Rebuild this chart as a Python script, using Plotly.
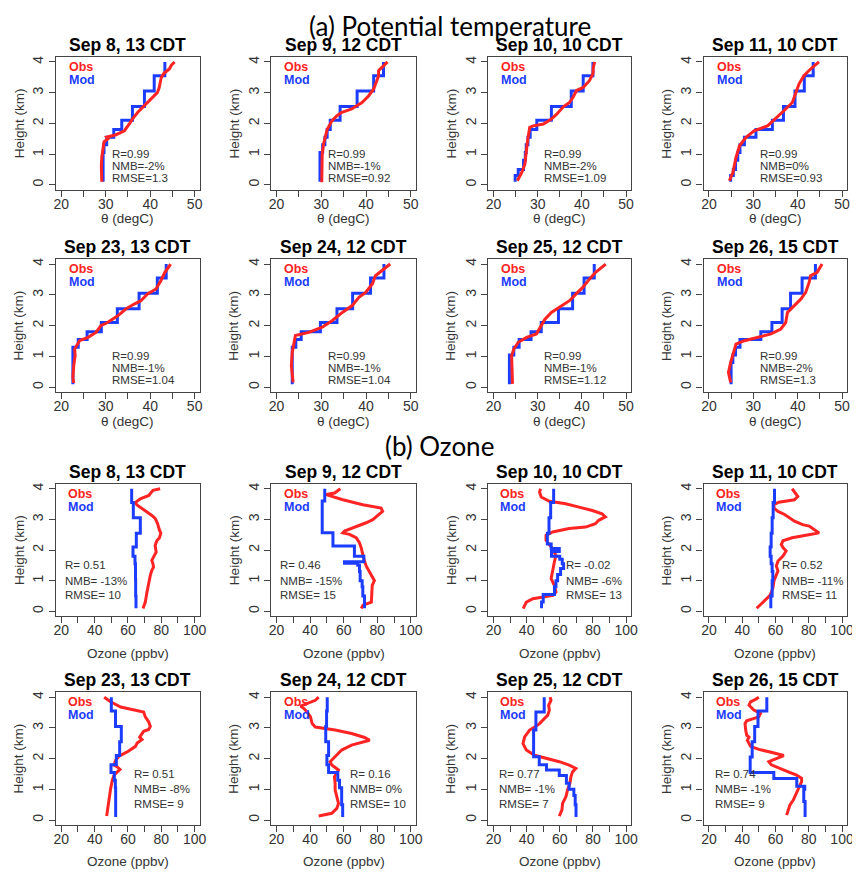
import plotly.graph_objects as go

# The page body has an 8 px margin, so the figure is drawn 8 px smaller and all
# reference pixel positions are shifted by that offset.
PAGE_W, PAGE_H = 860, 873
OFF = 8
W, H = PAGE_W - OFF, PAGE_H - OFF

# ---------------- data ----------------
panel_titles = ["Sep 8, 13 CDT", "Sep 9, 12 CDT", "Sep 10, 10 CDT", "Sep 11, 10 CDT",
                "Sep 23, 13 CDT", "Sep 24, 12 CDT", "Sep 25, 12 CDT", "Sep 26, 15 CDT"]

# Potential temperature (degC) - observed profiles
th_obs_z_sep08 = [0.1, 0.3, 0.6, 0.9, 1.2, 1.4, 1.5, 1.55, 1.63, 1.76, 1.98, 2.14, 2.36, 2.57, 2.79, 3.0, 3.15, 3.28, 3.5, 3.63, 3.77, 3.9, 4.0]
th_obs_sep08 = [29.1, 29.0, 29.0, 29.1, 29.3, 29.6, 30.5, 30.2, 32.3, 34.2, 35.3, 36.0, 37.2, 38.7, 40.1, 41.6, 42.0, 42.2, 42.5, 43.1, 44.3, 44.8, 45.5]
th_obs_z_sep09 = [0.08, 0.3, 0.6, 1.0, 1.33, 1.6, 1.8, 2.09, 2.25, 2.36, 2.47, 2.58, 2.68, 2.9, 3.12, 3.39, 3.55, 3.72, 3.88, 4.0]
th_obs_sep09 = [30.1, 30.1, 30.2, 30.2, 30.5, 31.0, 31.3, 32.4, 33.5, 34.6, 36.8, 38.0, 39.1, 40.6, 41.7, 42.4, 42.8, 42.8, 43.9, 44.8]
th_obs_z_sep10 = [0.13, 0.4, 0.67, 1.0, 1.43, 1.87, 1.92, 1.98, 2.14, 2.3, 2.54, 2.68, 2.85, 3.07, 3.17, 3.39, 3.61, 3.83, 4.0]
th_obs_sep10 = [25.4, 26.4, 27.1, 27.3, 27.7, 28.2, 29.0, 31.3, 33.1, 34.3, 35.8, 37.2, 38.0, 38.8, 40.3, 41.7, 42.5, 42.6, 42.9]
th_obs_z_sep11 = [0.13, 0.4, 0.89, 1.27, 1.54, 1.76, 1.92, 2.2, 2.41, 2.68, 2.96, 3.28, 3.55, 3.77, 4.0]
th_obs_sep11 = [24.6, 25.4, 26.1, 26.9, 28.3, 30.2, 33.2, 35.4, 36.9, 38.8, 39.5, 40.3, 41.4, 42.9, 44.8]
th_obs_z_sep23 = [0.14, 0.32, 0.7, 1.02, 1.24, 1.51, 1.62, 1.78, 2.0, 2.1, 2.32, 2.54, 2.7, 2.81, 3.03, 3.19, 3.46, 3.73, 4.0]
th_obs_sep23 = [22.8, 22.6, 22.8, 23.1, 23.0, 24.1, 26.0, 27.8, 28.9, 30.4, 32.7, 34.5, 36.4, 37.9, 39.4, 41.3, 42.4, 43.3, 44.6]
th_obs_z_sep24 = [0.16, 0.7, 1.13, 1.51, 1.68, 1.78, 1.95, 2.16, 2.43, 2.65, 2.92, 3.08, 3.35, 3.62, 3.78, 4.0]
th_obs_sep24 = [23.7, 23.3, 23.5, 23.9, 24.2, 27.2, 30.2, 32.4, 34.7, 36.9, 38.4, 39.9, 41.4, 42.1, 43.6, 45.4]
th_obs_z_sep25 = [0.11, 0.7, 1.02, 1.24, 1.46, 1.62, 1.73, 2.0, 2.2, 2.43, 2.59, 2.81, 3.03, 3.24, 3.51, 3.73, 4.0]
th_obs_sep25 = [24.3, 24.1, 24.1, 24.6, 25.6, 27.5, 29.7, 30.8, 31.6, 33.1, 34.9, 37.2, 38.7, 40.2, 41.7, 43.1, 45.4]
th_obs_z_sep26 = [0.16, 0.48, 0.81, 1.08, 1.4, 1.51, 1.62, 1.73, 1.89, 2.1, 2.43, 2.65, 2.86, 3.08, 3.41, 3.62, 3.73, 4.0]
th_obs_sep26 = [24.9, 24.4, 24.9, 25.4, 26.1, 28.0, 31.0, 34.0, 36.2, 37.3, 37.7, 39.2, 40.7, 41.8, 42.6, 42.9, 44.4, 45.5]

# Potential temperature - model layers (value holds from level i to level i+1)
th_mod_z = [0.1, 0.3, 0.5, 0.8, 1.05, 1.3, 1.55, 1.8, 2.1, 2.55, 3.05, 3.55, 4.0]
th_mod_sep08 = [29.4, 29.4, 29.4, 29.4, 29.6, 30.2, 31.8, 33.6, 36.0, 38.7, 40.9, 43.3, 43.3]
th_mod_sep09 = [29.7, 29.7, 29.7, 29.7, 30.3, 30.8, 31.3, 32.0, 34.2, 38.0, 41.7, 43.9, 43.9]
th_mod_sep10 = [24.9, 25.6, 26.8, 27.2, 27.4, 27.8, 28.3, 29.8, 33.1, 37.6, 40.3, 42.5, 42.5]
th_mod_sep11 = [24.9, 25.5, 26.0, 26.5, 27.0, 28.0, 30.6, 34.3, 36.8, 39.4, 41.5, 43.5, 43.5]
th_mod_sep23 = [22.6, 22.6, 22.6, 22.6, 22.6, 23.8, 25.8, 29.0, 32.6, 37.5, 41.6, 43.6, 43.6]
th_mod_sep24 = [23.5, 23.5, 23.5, 23.5, 23.5, 24.3, 25.5, 29.8, 33.5, 37.0, 41.0, 44.0, 44.0]
th_mod_sep25 = [23.6, 23.6, 23.6, 23.6, 24.6, 25.8, 28.5, 30.8, 34.7, 37.9, 40.5, 42.8, 42.8]
th_mod_sep26 = [25.0, 25.0, 25.0, 25.4, 26.0, 27.0, 31.7, 34.2, 36.5, 38.4, 41.0, 44.0, 44.0]

th_R = ["0.99", "0.99", "0.99", "0.99", "0.99", "0.99", "0.99", "0.99"]
th_NMB = ["-2%", "-1%", "-2%", "0%", "-1%", "-1%", "-1%", "-2%"]
th_RMSE = ["1.3", "0.92", "1.09", "0.93", "1.04", "1.04", "1.12", "1.3"]

# Ozone (ppbv) - observed profiles
o3_obs_z_sep08 = [0.09, 0.3, 0.63, 0.96, 1.17, 1.34, 1.44, 1.55, 1.66, 1.77, 1.93, 2.15, 2.3, 2.4, 2.55, 2.65, 2.87, 3.03, 3.13, 3.24, 3.35, 3.47, 3.55, 3.67, 3.78, 3.89, 3.95, 4.0]
o3_obs_sep08 = [69.0, 70.4, 71.4, 72.4, 73.4, 74.3, 75.3, 75.0, 74.3, 75.3, 76.9, 76.3, 77.3, 78.9, 79.7, 78.9, 77.7, 76.3, 74.3, 71.4, 68.4, 65.4, 64.4, 67.4, 72.5, 74.3, 75.0, 79.3]
o3_obs_z_sep09 = [0.09, 0.2, 0.3, 0.6, 0.85, 1.0, 1.1, 1.3, 1.48, 1.64, 1.91, 2.08, 2.24, 2.4, 2.51, 2.56, 2.62, 2.72, 2.89, 2.99, 3.16, 3.26, 3.37, 3.48, 3.64, 3.78, 3.81, 3.86, 3.97, 4.0]
o3_obs_sep09 = [70.5, 71.5, 76.5, 77.0, 77.0, 78.3, 77.3, 75.0, 73.4, 72.4, 71.4, 70.4, 69.4, 67.4, 63.5, 59.5, 60.5, 65.5, 73.4, 77.3, 81.3, 83.2, 82.3, 71.4, 59.5, 51.6, 49.6, 54.6, 57.5, 58.0]
o3_obs_z_sep10 = [0.09, 0.3, 0.41, 0.47, 0.52, 0.63, 0.85, 1.07, 1.28, 1.6, 1.83, 1.93, 2.1, 2.32, 2.48, 2.59, 2.7, 2.75, 2.86, 2.97, 3.08, 3.18, 3.29, 3.4, 3.51, 3.59, 3.73, 3.89, 4.0]
o3_obs_sep10 = [37.9, 39.8, 43.8, 49.8, 55.8, 57.7, 56.7, 54.8, 55.4, 56.7, 57.7, 56.7, 54.8, 51.7, 51.7, 55.7, 65.6, 75.6, 81.5, 83.5, 87.5, 85.5, 79.6, 71.6, 63.6, 53.7, 48.8, 47.8, 48.4]
o3_obs_z_sep11 = [0.1, 0.24, 0.4, 0.51, 0.62, 0.78, 1.0, 1.16, 1.32, 1.48, 1.64, 1.8, 1.97, 2.08, 2.18, 2.3, 2.4, 2.5, 2.56, 2.67, 2.78, 2.83, 2.94, 3.16, 3.26, 3.37, 3.48, 3.56, 3.64, 3.75, 3.91, 4.0]
o3_obs_sep11 = [48.7, 51.6, 54.6, 56.6, 57.5, 58.5, 59.1, 60.5, 61.5, 60.5, 61.5, 64.5, 66.4, 64.5, 63.5, 64.5, 70.0, 80.0, 86.2, 83.2, 80.3, 76.3, 71.4, 65.5, 61.5, 59.1, 59.1, 62.0, 71.4, 73.4, 71.4, 70.0]
o3_obs_z_sep23 = [0.13, 0.43, 0.76, 1.03, 1.3, 1.46, 1.57, 1.65, 1.73, 1.79, 1.95, 2.08, 2.22, 2.4, 2.51, 2.62, 2.7, 2.8, 2.89, 2.95, 3.05, 3.2, 3.36, 3.52, 3.58, 3.68, 3.85, 4.0]
o3_obs_sep23 = [47.2, 48.0, 48.6, 49.6, 50.6, 51.6, 53.6, 55.2, 53.6, 51.6, 52.6, 54.6, 59.5, 64.5, 65.5, 68.4, 67.0, 68.4, 69.4, 72.4, 73.4, 72.4, 70.4, 69.4, 63.5, 55.6, 49.6, 45.7]
o3_obs_z_sep24 = [0.13, 0.22, 0.38, 0.54, 0.76, 0.98, 1.19, 1.41, 1.63, 1.79, 1.9, 2.06, 2.28, 2.44, 2.55, 2.6, 2.69, 2.82, 2.93, 3.03, 3.14, 3.36, 3.52, 3.63, 3.71, 3.79, 3.9, 4.0]
o3_obs_sep24 = [45.1, 52.9, 55.9, 56.9, 55.9, 54.9, 54.9, 54.5, 56.9, 52.9, 51.9, 54.9, 58.8, 64.7, 72.5, 75.5, 72.5, 64.7, 54.9, 43.1, 41.2, 40.2, 38.2, 36.3, 34.3, 38.2, 43.1, 45.1]
o3_obs_z_sep25 = [0.13, 0.33, 0.54, 0.76, 0.98, 1.19, 1.41, 1.57, 1.68, 1.79, 1.9, 2.0, 2.11, 2.28, 2.49, 2.71, 2.93, 3.03, 3.14, 3.31, 3.41, 3.58, 3.74, 3.82, 3.9, 4.0]
o3_obs_sep25 = [59.7, 61.3, 61.7, 63.7, 64.7, 66.1, 66.7, 67.7, 69.7, 65.7, 59.7, 51.7, 44.8, 39.8, 37.8, 38.8, 41.8, 44.8, 47.8, 50.8, 52.7, 53.7, 53.3, 54.0, 54.7, 54.2]
o3_obs_z_sep26 = [0.16, 0.33, 0.49, 0.65, 0.87, 1.08, 1.25, 1.36, 1.46, 1.57, 1.68, 1.8, 1.9, 2.0, 2.1, 2.2, 2.3, 2.4, 2.5, 2.6, 2.7, 2.76, 2.93, 3.14, 3.23, 3.3, 3.36, 3.47, 3.58, 3.74, 3.85, 3.93, 4.0]
o3_obs_sep26 = [66.7, 67.7, 68.7, 70.7, 72.7, 74.3, 75.7, 75.7, 72.7, 67.7, 62.7, 57.5, 56.0, 60.0, 65.0, 58.0, 50.0, 45.0, 44.1, 43.1, 44.1, 42.7, 42.1, 41.7, 42.7, 46.0, 50.0, 51.0, 47.0, 44.1, 45.0, 48.0, 50.0]

# Ozone - model layers (value holds from level i to level i+1)
o3_mod_z_sep08 = [0.1, 0.5, 1.05, 1.55, 1.8, 2.1, 2.55, 3.05, 3.55, 4.0]
o3_mod_sep08 = [64.8, 64.6, 64.5, 64.2, 63.0, 65.0, 67.4, 63.2, 62.2, 62.2]
o3_mod_z_sep09 = [0.1, 0.5, 0.8, 1.0, 1.3, 1.5, 1.57, 1.62, 1.8, 2.13, 2.56, 3.6, 4.0]
o3_mod_sep09 = [72.4, 71.4, 71.0, 69.8, 69.4, 68.4, 60.5, 72.0, 66.4, 53.6, 47.2, 48.7, 48.7]
o3_mod_z_sep10 = [0.1, 0.3, 0.55, 0.8, 1.0, 1.2, 1.4, 1.55, 1.7, 1.8, 1.95, 2.05, 2.2, 2.55, 3.05, 3.55, 4.0]
o3_mod_sep10 = [49.0, 50.0, 56.8, 57.7, 58.7, 60.5, 62.3, 61.5, 60.0, 55.0, 59.7, 54.8, 52.5, 53.5, 54.5, 56.3, 56.3]
o3_mod_z_sep11 = [0.1, 0.5, 1.0, 1.3, 1.55, 1.8, 2.1, 2.55, 3.05, 3.55, 4.0]
o3_mod_sep11 = [57.2, 58.0, 58.4, 58.0, 57.4, 56.8, 57.4, 58.0, 58.6, 59.4, 59.4]
o3_mod_z_sep23 = [0.1, 0.5, 1.05, 1.3, 1.55, 1.8, 2.1, 2.55, 3.05, 3.55, 4.0]
o3_mod_sep23 = [52.6, 52.6, 52.4, 51.8, 49.8, 53.0, 55.0, 56.0, 52.5, 50.0, 50.0]
o3_mod_z_sep24 = [0.1, 0.5, 1.05, 1.3, 1.55, 1.8, 2.1, 2.55, 3.05, 3.55, 4.0]
o3_mod_sep24 = [59.4, 58.8, 57.5, 56.5, 51.0, 50.0, 51.0, 49.3, 49.8, 50.2, 50.2]
o3_mod_z_sep25 = [0.1, 0.5, 0.8, 1.0, 1.2, 1.45, 1.63, 1.8, 2.06, 2.93, 3.52, 4.0]
o3_mod_sep25 = [69.8, 69.3, 68.5, 65.6, 64.0, 59.7, 52.0, 47.6, 44.2, 45.6, 50.6, 50.6]
o3_mod_z_sep26 = [0.1, 0.6, 1.0, 1.1, 1.35, 1.55, 2.05, 2.55, 3.05, 3.55, 4.0]
o3_mod_sep26 = [77.8, 77.0, 77.6, 72.8, 59.0, 44.8, 46.0, 47.5, 49.5, 54.8, 54.8]

o3_R = ["0.51", "0.46", "-0.02", "0.52", "0.51", "0.16", "0.77", "0.74"]
o3_NMB = ["-13%", "-15%", "-6%", "-11%", "-8%", "0%", "-1%", "-1%"]
o3_RMSE = ["10", "15", "13", "11", "9", "10", "7", "9"]

theta_tickvals = [20, 25, 30, 35, 40, 45, 50]
theta_ticktext = ["20", "", "30", "", "40", "", "50"]
o3_tickvals = [20, 30, 40, 50, 60, 70, 80, 90, 100]
o3_ticktext = ["20", "", "40", "", "60", "", "80", "", "100"]
height_tickvals = [0, 1, 2, 3, 4]

# ---------------- layout geometry (reference pixels) ----------------
cols_px = [(54.5, 200.0), (272.0, 418.5), (491.3, 636.0), (709.0, 854.3)]
rows_px = [(56.1, 188.9), (258.4, 391.6), (483.4, 615.9), (692.1, 824.9)]
xtitle_dy = [29, 29, 37, 37]

RED = "#ff2424"
BLUE = "#1c3cff"
FONT = "Liberation Sans, Arial, sans-serif"

th_obs = [(th_obs_z_sep08, th_obs_sep08), (th_obs_z_sep09, th_obs_sep09), (th_obs_z_sep10, th_obs_sep10),
          (th_obs_z_sep11, th_obs_sep11), (th_obs_z_sep23, th_obs_sep23), (th_obs_z_sep24, th_obs_sep24),
          (th_obs_z_sep25, th_obs_sep25), (th_obs_z_sep26, th_obs_sep26)]
th_mod = [th_mod_sep08, th_mod_sep09, th_mod_sep10, th_mod_sep11,
          th_mod_sep23, th_mod_sep24, th_mod_sep25, th_mod_sep26]
o3_obs = [(o3_obs_z_sep08, o3_obs_sep08), (o3_obs_z_sep09, o3_obs_sep09), (o3_obs_z_sep10, o3_obs_sep10),
          (o3_obs_z_sep11, o3_obs_sep11), (o3_obs_z_sep23, o3_obs_sep23), (o3_obs_z_sep24, o3_obs_sep24),
          (o3_obs_z_sep25, o3_obs_sep25), (o3_obs_z_sep26, o3_obs_sep26)]
o3_mod = [(o3_mod_z_sep08, o3_mod_sep08), (o3_mod_z_sep09, o3_mod_sep09), (o3_mod_z_sep10, o3_mod_sep10),
          (o3_mod_z_sep11, o3_mod_sep11), (o3_mod_z_sep23, o3_mod_sep23), (o3_mod_z_sep24, o3_mod_sep24),
          (o3_mod_z_sep25, o3_mod_sep25), (o3_mod_z_sep26, o3_mod_sep26)]
o3_text_x = [21.6, 21.6, 62.9, 63.1, 63.1, 63.1, 23.0, 23.0]


def px2x(px):
    return (px - OFF) / W


def px2y(py):
    return 1 - (py - OFF) / H


fig = go.Figure()
layout = dict(width=W, height=H, margin=dict(l=0, r=0, t=0, b=0), autosize=False,
              paper_bgcolor="white", plot_bgcolor="white", showlegend=False)
annotations = []


def add_text(text, x, y, xref="paper", yref="paper", size=13, color="#333333", bold=False,
             xanchor="center", yanchor="middle", angle=0, family=FONT):
    if bold:
        text = "<b>" + text + "</b>"
    annotations.append(dict(text=text, x=x, y=y, xref=xref, yref=yref, showarrow=False,
                            xanchor=xanchor, yanchor=yanchor, textangle=angle, borderpad=0,
                            font=dict(family=family, size=size, color=color)))


for k in range(16):
    n = k + 1
    row = k // 4
    col = k % 4
    is_theta = row < 2
    idx = (row % 2) * 4 + col
    xs = "" if n == 1 else str(n)
    xref, yref = "x" + xs, "y" + xs
    x0, x1 = cols_px[col]
    top, bot = rows_px[row]

    axis_common = dict(showline=True, mirror=True, linecolor="#444444", linewidth=1.2,
                       ticks="outside", ticklen=6, tickwidth=1.2, tickcolor="#444444",
                       showgrid=False, zeroline=False,
                       tickfont=dict(family=FONT, size=14, color="#333333"))
    if is_theta:
        xaxis = dict(domain=[px2x(x0), px2x(x1)], range=[18.8, 51.2], anchor=yref,
                     tickvals=theta_tickvals, ticktext=theta_ticktext,
                     ticklabelstandoff=-5, **axis_common)
    else:
        xaxis = dict(domain=[px2x(x0), px2x(x1)], range=[16.8, 103.2], anchor=yref,
                     tickvals=o3_tickvals, ticktext=o3_ticktext,
                     ticklabelstandoff=-5, **axis_common)
    yaxis = dict(domain=[px2y(bot), px2y(top)], range=[-0.16, 4.16], anchor=xref,
                 tickvals=height_tickvals, tickangle=-90, **axis_common)
    layout["xaxis" + xs] = xaxis
    layout["yaxis" + xs] = yaxis

    if is_theta:
        oz, ov = th_obs[idx]
        fig.add_trace(go.Scatter(x=th_mod[idx], y=th_mod_z, mode="lines", line=dict(color=BLUE, width=3, shape="vh"),
                                 xaxis=xref, yaxis=yref, hoverinfo="skip"))
        fig.add_trace(go.Scatter(x=ov, y=oz, mode="lines", line=dict(color=RED, width=3),
                                 xaxis=xref, yaxis=yref, hoverinfo="skip"))
        stats = ["R=" + th_R[idx], "NMB=" + th_NMB[idx], "RMSE=" + th_RMSE[idx]]
        sx = 31.25
        sy = [1.0, 0.61, 0.23]
        leg_x = 21.5
        xtitle = "θ (degC)"
    else:
        oz, ov = o3_obs[idx]
        mz, mv = o3_mod[idx]
        fig.add_trace(go.Scatter(x=ov, y=oz, mode="lines", line=dict(color=RED, width=3),
                                 xaxis=xref, yaxis=yref, hoverinfo="skip"))
        fig.add_trace(go.Scatter(x=mv, y=mz, mode="lines", line=dict(color=BLUE, width=3, shape="vh"),
                                 xaxis=xref, yaxis=yref, hoverinfo="skip"))
        stats = ["R= " + o3_R[idx], "NMB= " + o3_NMB[idx], "RMSE= " + o3_RMSE[idx]]
        sx = o3_text_x[idx]
        sy = [1.5, 1.0, 0.52]
        leg_x = 23.6
        xtitle = "Ozone (ppbv)"

    for s, yy in zip(stats, sy):
        add_text(s, sx, yy, xref=xref, yref=yref, size=11.5, color="#333333", xanchor="left")
    add_text("Obs", leg_x, 3.84, xref=xref, yref=yref, size=12.5, color=RED, bold=True, xanchor="left")
    add_text("Mod", leg_x, 3.42, xref=xref, yref=yref, size=12.5, color=BLUE, bold=True, xanchor="left")

    # panel title
    add_text(panel_titles[idx], px2x((x0 + x1) / 2), px2y(top - 12), size=17.5, color="#000000", bold=True)
    # axis titles
    add_text(xtitle, px2x((x0 + x1) / 2), px2y(bot + xtitle_dy[row]), size=13.5, color="#333333")
    add_text("Height (km)", px2x(x0 - 37.5), px2y((top + bot) / 2), size=13.5, color="#333333", angle=-90)

# section headings
add_text("(a) Potential temperature", px2x(453), 1.0, size=26, color="#000000",
         yanchor="top", family="Lato, Open Sans, sans-serif")
add_text("(b) Ozone", px2x(442), px2y(446), size=26, color="#000000", family="Lato, Open Sans, sans-serif")

layout["annotations"] = annotations
fig.update_layout(**layout)
fig.write_html("out.html")
